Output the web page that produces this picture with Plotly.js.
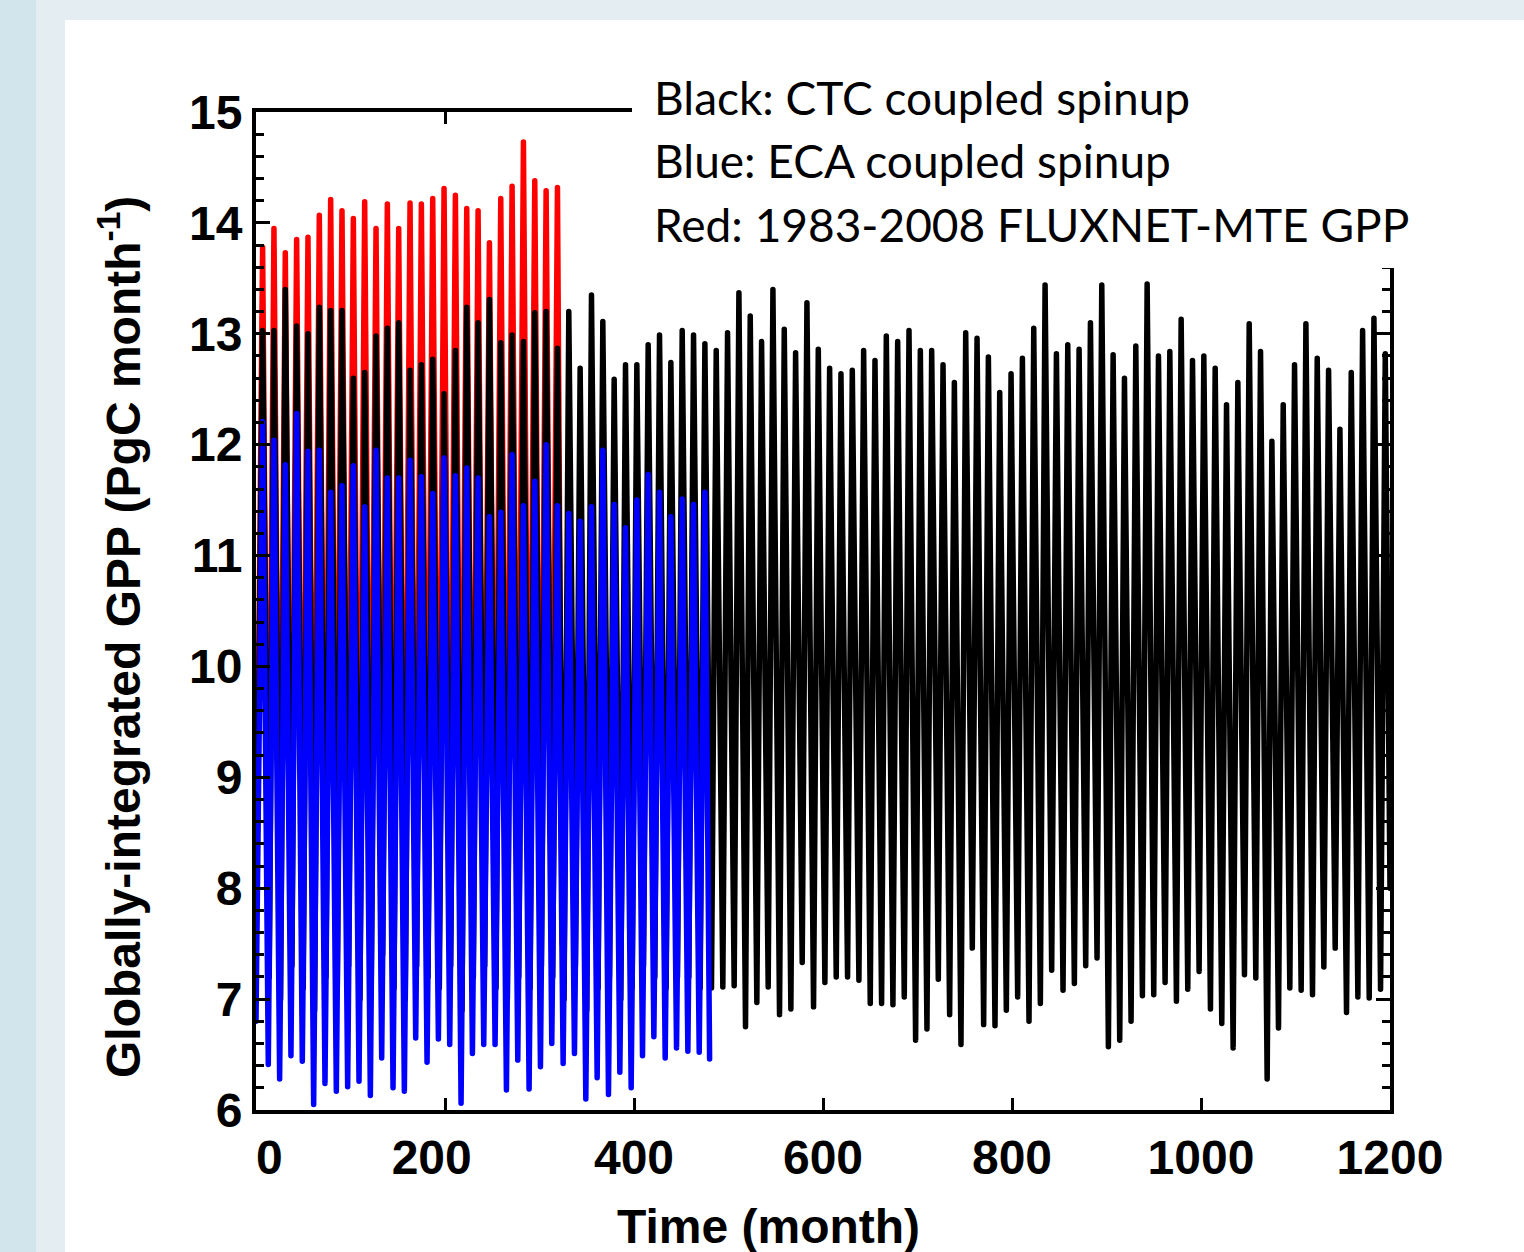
<!DOCTYPE html>
<html>
<head>
<meta charset="utf-8">
<script src="https://cdn.plot.ly/plotly-3.0.1.min.js"></script>
<style>
  html, body { margin: 0; padding: 0; width: 1524px; height: 1252px; overflow: hidden; background: #e4eef2; }
  #strip { position: absolute; left: 0; top: 0; width: 36px; height: 1252px; background: #d2e5ec; }
  #panel { position: absolute; left: 65px; top: 20px; width: 1459px; height: 1232px; background: #ffffff; }
  #chart { position: absolute; left: 0; top: 0; width: 1524px; height: 1252px; }
  .scatterlayer path.js-line { stroke-linejoin: round; stroke-linecap: round; }
</style>
</head>
<body>
<div id="strip"></div>
<div id="panel"></div>
<div id="chart"></div>
<script>
// ---- data (PgC per month) ----
// Black: CTC coupled spinup, 100 yearly peaks (July) and 99 troughs (Jan/Feb)
const blackStart = 7.4;
const blackPeaks = [
  13.03, 13.03, 13.40, 13.07, 13.00, 13.24, 13.21, 13.21, 12.60, 12.65, 12.98, 13.05, 13.10, 12.67, 12.72, 12.77, 12.46,
  12.85, 13.24, 13.10, 13.31, 12.92, 12.99, 12.93, 13.19, 13.20, 12.87, 13.20, 12.69, 13.35, 13.11, 12.59, 12.72,
  12.72, 12.90, 12.99, 12.74, 13.03, 12.99, 12.91, 12.85, 13.01, 13.37, 13.16, 12.93, 13.40, 13.04, 12.83, 13.28, 12.86,
  12.69, 12.64, 12.67, 12.85, 12.76, 12.98, 12.93, 13.03, 12.85, 12.85, 12.72, 12.56, 13.01, 12.96, 12.79, 12.47, 12.64,
  12.78, 13.05, 13.44, 12.82, 12.90, 12.86, 13.10, 13.44, 12.81, 12.60, 12.89, 13.45, 12.80, 12.84, 13.13, 12.76, 12.80,
  12.69, 12.36, 12.56, 13.09, 12.84, 12.03, 12.36, 12.72, 13.09, 12.78, 12.67, 12.14, 12.65, 13.03, 13.14, 12.82
];
const blackTroughs = [
  7.20, 7.00, 7.30, 7.10, 6.90, 7.20, 7.10, 7.30, 7.00, 7.20, 7.40, 7.10, 7.00, 7.30, 7.20, 7.10, 7.30, 6.90, 7.20, 7.30,
  7.10, 7.00, 7.20, 7.10, 7.30, 7.20, 7.00, 7.30, 6.90, 7.10, 7.20, 7.00, 7.10, 7.30, 7.20, 7.10, 7.20, 7.20, 7.10,
  7.10, 7.11, 7.12, 6.75, 6.97, 7.11, 6.86, 6.91, 7.33, 6.93,
  7.15, 7.20, 7.20, 7.17, 6.96, 6.96, 6.95, 7.02, 6.63, 6.73,
  7.18, 6.86, 6.59, 7.46, 6.77, 6.76, 6.90, 7.02, 6.80, 6.96,
  7.26, 7.08, 7.14, 7.30, 7.37, 6.57, 6.63, 6.80, 7.03, 7.04,
  7.15, 6.98, 7.09, 7.25, 6.91, 6.78, 6.56, 7.22, 7.19, 6.28,
  6.74, 7.10, 7.08, 7.04, 7.29, 7.46, 6.88, 7.02, 7.01, 7.09
];
const blackEnd = 8.0;

// Blue: ECA coupled spinup, 40 years
const blueStart = 6.80;
const bluePeaks = [
  12.21, 12.04, 11.82, 12.28, 11.94, 11.95, 11.57, 11.63, 11.81, 11.44, 11.95, 11.70, 11.70, 11.86, 11.71, 11.56, 11.88,
  11.72, 11.79, 11.70, 11.35, 11.39, 11.91, 11.45, 11.67, 12.00, 11.45, 11.38, 11.31, 11.44, 11.95, 11.46, 11.25,
  11.50, 11.73, 11.57, 11.35, 11.51, 11.46, 11.57
];
const blueTroughs = [
  6.41, 6.28, 6.49, 6.44, 6.05, 6.24, 6.17, 6.21, 6.26, 6.13, 6.47, 6.20, 6.17, 6.65, 6.43, 6.64,
  6.59, 6.06, 6.51, 6.59, 6.59, 6.18, 6.45, 6.19, 6.39, 6.60, 6.42, 6.51, 6.10, 6.29, 6.14, 6.34, 6.20,
  6.49, 6.66, 6.47, 6.56, 6.53, 6.52
];
const blueEnd = 6.46;

// Red: 1983-2008 FLUXNET-MTE GPP, 27 years
const redStart = 7.45;
const redPeaks = [
  13.78, 13.95, 13.73, 13.85, 13.87, 14.07, 14.21, 14.11, 14.04, 14.19, 13.95, 14.17, 13.95, 14.18, 14.17, 14.22, 14.31,
  14.25, 14.13, 14.11, 13.82, 14.22, 14.33, 14.73, 14.38, 14.29, 14.32
];
const redTroughs = [
  7.40, 7.50, 7.30, 7.40, 7.50, 7.40, 7.60, 7.40, 7.30, 7.50, 7.40, 7.50, 7.30,
  7.40, 7.60, 7.50, 7.40, 7.50, 7.30, 7.40, 7.50, 7.40, 7.60, 7.50, 7.40, 7.50
];
const redEnd = 7.5;

const xTickVals = [0, 200, 400, 600, 800, 1000, 1200];
const xTickText = ['\u00a0\u00a00', '200\u00a0\u00a0', '400', '600', '800', '1000', '1200'];
const yTickVals = [6, 7, 8, 9, 10, 11, 12, 13, 14, 15];
const legendLines = ["Black: CTC coupled spinup", "Blue: ECA coupled spinup", "Red: 1983-2008 FLUXNET-MTE GPP"];
const xTitle = 'Time (month)';
const yTitle = 'Globally-integrated GPP (PgC month<sup>-1</sup>)';

// months of the year at which the peak / trough samples sit
const PEAK_MONTH = 7, BLACK_TROUGH_MONTH = 14, TROUGH_MONTH = 13;

function series(start, peaks, troughs, end, troughMonth, endMonth) {
  const x = [0], y = [start];
  for (let k = 0; k < peaks.length; k++) {
    x.push(PEAK_MONTH + 12 * k); y.push(peaks[k]);
    if (k < troughs.length) { x.push(troughMonth + 12 * k); y.push(troughs[k]); }
  }
  x.push(endMonth); y.push(end);
  return {x, y};
}

const red = series(redStart, redPeaks, redTroughs, redEnd, TROUGH_MONTH, 12 * redPeaks.length);
const black = series(blackStart, blackPeaks, blackTroughs, blackEnd, BLACK_TROUGH_MONTH, 12 * blackPeaks.length);
const blue = series(blueStart, bluePeaks, blueTroughs, blueEnd, TROUGH_MONTH, 12 * bluePeaks.length);

const LW = 5.5;
const traces = [
  {x: red.x, y: red.y, mode: 'lines', line: {color: '#ff0000', width: LW}, name: 'Red'},
  {x: black.x, y: black.y, mode: 'lines', line: {color: '#000000', width: LW}, name: 'Black'},
  {x: blue.x, y: blue.y, mode: 'lines', line: {color: '#0000ff', width: LW}, name: 'Blue'}
];

const boldFont = {family: '"Liberation Sans", Arial, sans-serif', size: 48, color: '#000', weight: 'bold'};
const L = 256, R = 1390, T = 112, B = 1110, W = 1524, H = 1252;
const px = v => (v - L) / (R - L);
const py = v => (B - v) / (B - T);

const annotations = legendLines.map((t, i) => ({
  text: t, xref: 'paper', yref: 'paper', x: px(652), y: py([97, 160, 224][i]),
  xanchor: 'left', yanchor: 'middle', showarrow: false,
  font: {family: 'Lato, "Noto Sans", sans-serif', size: 46, color: '#000'}
}));
annotations.push({
  text: xTitle, xref: 'paper', yref: 'paper', x: px(768), y: py(1226),
  xanchor: 'center', yanchor: 'middle', showarrow: false, font: boldFont
});
annotations.push({
  text: yTitle, xref: 'paper', yref: 'paper', x: px(120), y: py(637), textangle: -90,
  xanchor: 'center', yanchor: 'middle', showarrow: false, font: boldFont
});

const layout = {
  width: W, height: H,
  margin: {l: L, r: W - R, t: T, b: H - B, pad: 0},
  paper_bgcolor: 'rgba(0,0,0,0)',
  plot_bgcolor: '#ffffff',
  showlegend: false,
  xaxis: {
    range: [0, 1200], tickvals: xTickVals, ticktext: xTickText, ticks: 'inside', ticklen: 12, tickwidth: 3, tickcolor: '#000',
    showline: true, linewidth: 4, linecolor: '#000', mirror: 'ticks', showgrid: false, zeroline: false,
    tickfont: boldFont, ticklabelstandoff: 2
  },
  yaxis: {
    range: [6, 15], tickvals: yTickVals, ticks: 'inside', ticklen: 14, tickwidth: 3, tickcolor: '#000',
    minor: {dtick: 0.2, ticks: 'inside', ticklen: 8, tickwidth: 3, tickcolor: '#000', showgrid: false},
    showline: true, linewidth: 4, linecolor: '#000', mirror: 'ticks', showgrid: false, zeroline: false,
    tickfont: boldFont, ticklabelstandoff: 0
  },
  shapes: [{
    type: 'rect', xref: 'paper', yref: 'paper', layer: 'above',
    x0: px(632), x1: px(1440), y0: py(268), y1: py(22),
    fillcolor: '#ffffff', line: {width: 0}
  }],
  annotations: annotations
};

Plotly.newPlot('chart', traces, layout, {displayModeBar: false, staticPlot: true});
</script>
</body>
</html>
